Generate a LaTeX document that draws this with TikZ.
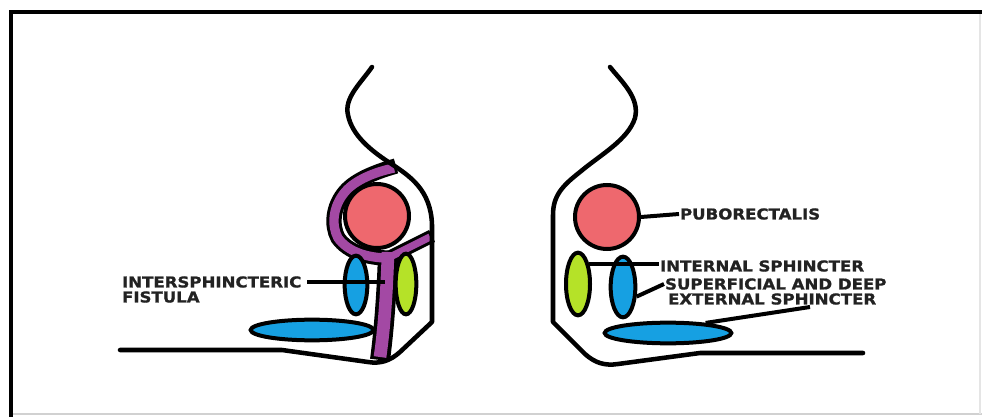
\documentclass[tikz,border=0pt]{standalone}
\usepackage{fontspec}
\usetikzlibrary{shapes.geometric,calc}
\newfontfamily\lblfont[FakeStretch=1.11,FakeBold=1.2]{DejaVu Sans Bold}
\definecolor{muscleRed}{RGB}{238,104,110}
\definecolor{muscleBlue}{RGB}{22,160,226}
\definecolor{muscleGreen}{RGB}{181,226,40}
\definecolor{tractPurple}{RGB}{163,73,164}
\definecolor{labelInk}{RGB}{34,34,34}
\begin{document}
\begin{tikzpicture}[x=0.75pt,y=-0.75pt,
  wall/.style={line width=3.4pt,line cap=round,line join=round},
  muscle/.style={draw=black,line width=3pt,inner sep=0pt},
  ring/.style={muscle,circle,fill=muscleRed,minimum size=48pt},
  oval/.style={muscle,ellipse},
  lbl/.style={font=\lblfont\fontsize{11.2}{12}\selectfont,text=labelInk,inner sep=0.6pt},
  pointer/.style={line width=3pt}]
\useasboundingbox (0,0) rectangle (982,417);
\fill[white] (0,0) rectangle (982,417);

% frame
\draw[black!18,line width=1pt] (11,414) -- (982,414);
\draw[black!10,line width=0.8pt] (980,14) -- (980,414);
\draw[line width=3.4pt] (982,12) -- (11,12) -- (11,417);

% ---------- left side: intersphincteric fistula tract ----------
\begin{scope}
  % black outline of the tract
  \draw[line width=11.5pt]
    (396,166) .. controls (375,172) and (355,180) .. (345,192)
    .. controls (333,206) and (331,225) .. (338,238)
    .. controls (348,252) and (368,258) .. (388,258);
  \draw[line width=15pt] (388,252) .. controls (387,290) and (384,330) .. (380,360);
  \draw[line width=10pt] (388,258) -- (432,236);
  % purple fill of the tract
  \draw[tractPurple,line width=7pt]
    (394,168) .. controls (375,172) and (355,180) .. (345,192)
    .. controls (333,206) and (331,225) .. (338,238)
    .. controls (348,252) and (368,258) .. (388,258);
  \draw[tractPurple,line width=9.5pt] (388,252) .. controls (387,290) and (384,330) .. (380,357);
  \draw[tractPurple,line width=5.5pt] (388,258) -- (430,237);
\end{scope}

% left canal wall
\draw[wall] (372,67) .. controls (360,84) and (344,98) .. (348,115)
  .. controls (352,135) and (370,150) .. (390,163)
  .. controls (410,176) and (431,190) .. (432,225)
  -- (432,322) -- (400,352)
  .. controls (390,361) and (380,364) .. (368,362)
  -- (282,350) -- (120,350);

% right canal wall
\draw[wall] (610,67) .. controls (622,82) and (640,98) .. (635,118)
  .. controls (628,140) and (600,155) .. (580,172)
  .. controls (562,186) and (553,196) .. (553,215)
  -- (553,322) -- (585,354)
  .. controls (595,363) and (605,366) .. (618,364)
  -- (700,353) -- (863,353);

% left muscles
\node[oval,fill=muscleBlue,minimum width=92pt,minimum height=15.5pt] (LH) at (312,330) {};
\node[ring] (LC) at (377,216) {};
\node[oval,fill=muscleBlue,minimum width=17pt,minimum height=44pt] (LB) at (356,285) {};
\node[oval,fill=muscleGreen,minimum width=15.5pt,minimum height=45.5pt] (LG) at (406,284) {};

% right muscles
\node[ring] (RC) at (607,217) {};
\node[oval,fill=muscleGreen,minimum width=18pt,minimum height=47pt] (RG) at (578,284) {};
\node[oval,fill=muscleBlue,minimum width=18.5pt,minimum height=45.5pt] (RB) at (623,287) {};
\node[oval,fill=muscleBlue,minimum width=95pt,minimum height=15.5pt] (RH) at (668,333) {};

% labels
\node[lbl,anchor=west] (IF1) at (121,282) {INTERSPHINCTERIC};
\node[lbl,anchor=west] (IF2) at (121,297) {FISTULA};
\node[lbl,anchor=west] (PR) at (679,214) {PUBORECTALIS};
\node[lbl,anchor=west] (IS) at (659,266) {INTERNAL SPHINCTER};
\node[lbl,anchor=west] (SD1) at (664,284) {SUPERFICIAL AND DEEP};
\node[lbl,anchor=west] (SD2) at (667,299) {EXTERNAL SPHINCTER};

% pointers
\coordinate (tract) at (385,282);
\coordinate (deepEnd) at (810,307);
\draw[pointer] (IF1.east -| 307,0) -- (tract);
\draw[pointer] (RC.east) -- (PR.west);
\draw[pointer] (RG.60) -- (RG.60 -| IS.west);
\draw[pointer] (RB.-35) -- (SD1.west);
\draw[pointer] (RH.15) -- (deepEnd);
\end{tikzpicture}
\end{document}
